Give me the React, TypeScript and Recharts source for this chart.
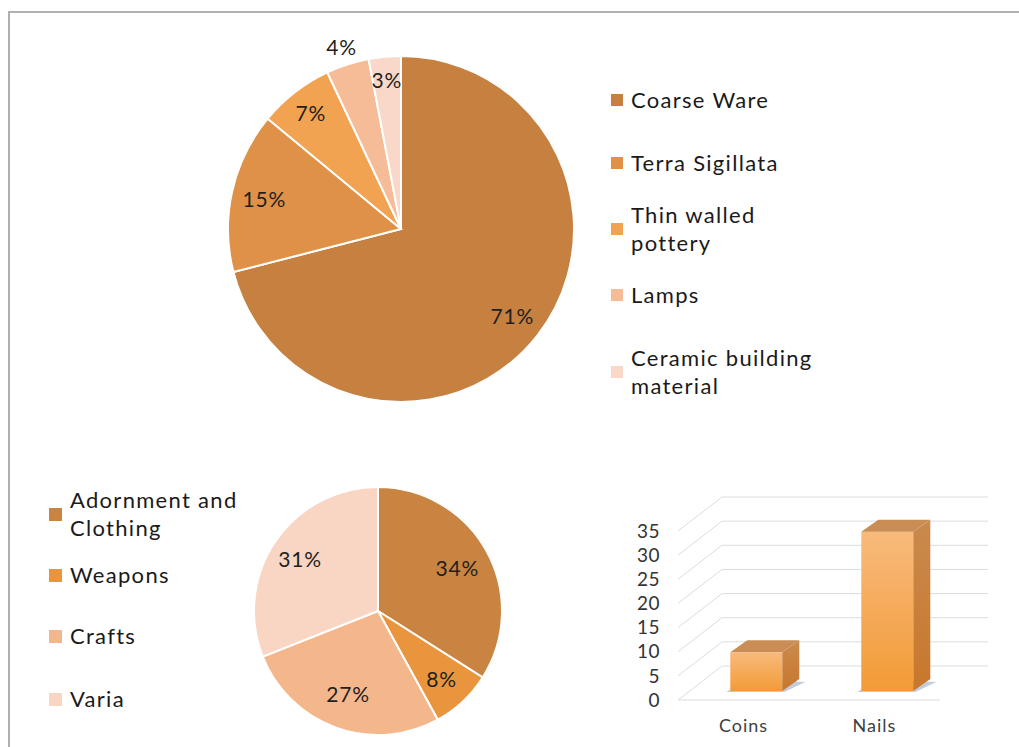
import {
  PieChart,
  Pie,
  Cell,
  BarChart,
  Bar,
  XAxis,
  YAxis,
  CartesianGrid,
  ReferenceLine,
} from "recharts";

const potteryNames = [
  "Coarse Ware",
  "Terra Sigillata",
  "Thin walled\npottery",
  "Lamps",
  "Ceramic building\nmaterial",
];
const potteryShares = [71, 15, 7, 4, 3];
const potteryColors = ["#C68040", "#DF9147", "#F2A352", "#F5BC97", "#F9D7C9"];

const findNames = ["Adornment and\nClothing", "Weapons", "Crafts", "Varia"];
const findShares = [34, 8, 27, 31];
const findColors = ["#C98441", "#E8953E", "#F4B68B", "#F9D5C4"];

const metalCategories = ["Coins", "Nails"];
const metalCounts = [8, 33];
const countTicks = [0, 5, 10, 15, 20, 25, 30, 35];

const potteryData = potteryNames.map((name, i) => ({ name, value: potteryShares[i] }));
const findData = findNames.map((name, i) => ({ name, value: findShares[i] }));
const metalData = metalCategories.map((name, i) => ({ name, count: metalCounts[i] }));

const FONT = "Lato, 'Noto Sans', sans-serif";
const RAD = Math.PI / 180;

// where the percent sits, as a share of the radius (small slice 4% sits outside)
const topLabelRadius = [0.815, 0.81, 0.85, 1.11, 0.87];
const bottomLabelRadius = [0.73, 0.75, 0.71, 0.76];

// legend row centres (page px)
const topLegendY = [100, 163, 229, 295, 372];
const bottomLegendY = [514, 575, 636, 699];

function makeLabel(radii: number[]) {
  return (p: any) => {
    const r = p.outerRadius * radii[p.index];
    const x = p.cx + r * Math.cos(-p.midAngle * RAD);
    const y = p.cy + r * Math.sin(-p.midAngle * RAD);
    return (
      <text
        x={x}
        y={y}
        textAnchor="middle"
        dominantBaseline="central"
        fill="#1f1f1f"
        fontSize={21}
        letterSpacing={0.8}
        fontFamily={FONT}
      >
        {p.value}%
      </text>
    );
  };
}

function LegendBlock({
  names,
  colors,
  ys,
  squareX,
  textX,
  square,
}: {
  names: string[];
  colors: string[];
  ys: number[];
  squareX: number;
  textX: number;
  square: number;
}) {
  return (
    <>
      {names.map((n, i) => (
        <div key={n}>
          <div
            style={{
              position: "absolute",
              left: squareX,
              top: ys[i] - square / 2,
              width: square,
              height: square,
              background: colors[i],
            }}
          />
          <div
            style={{
              position: "absolute",
              left: textX,
              top: ys[i],
              transform: "translateY(-50%)",
              whiteSpace: "pre",
              fontFamily: FONT,
              fontSize: 22,
              letterSpacing: 1.3,
              lineHeight: "28px",
              color: "#1a1a1a",
            }}
          >
            {n}
          </div>
        </div>
      ))}
    </>
  );
}

const GRID_DX = 44;
const GRID_DY = -34;

const gridLine = (p: any) => {
  const { x1, y1, x2, key } = p;
  return (
    <g key={key}>
      <line x1={x1} y1={y1} x2={x1 + GRID_DX} y2={y1 + GRID_DY} stroke="#DCDCDC" strokeWidth={1} />
      <line
        x1={x1 + GRID_DX}
        y1={y1 + GRID_DY}
        x2={x2 + 48}
        y2={y1 + GRID_DY}
        stroke="#DCDCDC"
        strokeWidth={1}
      />
    </g>
  );
};

const Box3D = (props: any) => {
  const { x, y, width, height } = props;
  const fx = x + 13;
  const fy = y - 9;
  const w = width;
  const h = height;
  const dx = 17;
  const dy = -12;
  const b = fy + h;
  return (
    <g>
      <polygon
        points={`${fx - 4},${b + 1} ${fx + w + 2},${b + 1} ${fx + w + dx + 6},${b + dy + 3} ${fx + dx},${b + dy}`}
        fill="#8FA3BF"
        opacity={0.55}
      />
      <rect x={fx} y={fy} width={w} height={h} fill="url(#boxFront)" />
      <polygon
        points={`${fx + w},${fy} ${fx + w + dx},${fy + dy} ${fx + w + dx},${b + dy} ${fx + w},${b}`}
        fill="url(#boxSide)"
      />
      <polygon
        points={`${fx},${fy} ${fx + w},${fy} ${fx + w + dx},${fy + dy} ${fx + dx},${fy + dy}`}
        fill="#C98D55"
      />
    </g>
  );
};

const noMargin = { top: 0, right: 0, bottom: 0, left: 0 };

export default function App() {
  return (
    <div
      style={{
        position: "fixed",
        left: 0,
        top: 0,
        width: 1019,
        height: 747,
        background: "#fff",
        overflow: "hidden",
      }}
    >
      <div
        style={{
          position: "absolute",
          left: 8,
          top: 11,
          right: -10,
          bottom: -10,
          borderTop: "2px solid #B0B0B0",
          borderLeft: "2px solid #B0B0B0",
        }}
      />

      <div style={{ position: "absolute", left: 191, top: 19 }}>
        <PieChart width={420} height={420} margin={noMargin}>
          <Pie
            data={potteryData}
            dataKey="value"
            nameKey="name"
            cx={210}
            cy={210}
            outerRadius={173}
            startAngle={90}
            endAngle={-270}
            stroke="#fff"
            strokeWidth={2}
            label={makeLabel(topLabelRadius)}
            labelLine={false}
            isAnimationActive={false}
          >
            {potteryData.map((d, i) => (
              <Cell key={d.name} fill={potteryColors[i]} />
            ))}
          </Pie>
        </PieChart>
      </div>
      <LegendBlock
        names={potteryNames}
        colors={potteryColors}
        ys={topLegendY}
        squareX={611}
        textX={631}
        square={12}
      />

      <div style={{ position: "absolute", left: 228, top: 461 }}>
        <PieChart width={300} height={300} margin={noMargin}>
          <Pie
            data={findData}
            dataKey="value"
            nameKey="name"
            cx={150}
            cy={150}
            outerRadius={124}
            startAngle={90}
            endAngle={-270}
            stroke="#fff"
            strokeWidth={2}
            label={makeLabel(bottomLabelRadius)}
            labelLine={false}
            isAnimationActive={false}
          >
            {findData.map((d, i) => (
              <Cell key={d.name} fill={findColors[i]} />
            ))}
          </Pie>
        </PieChart>
      </div>
      <LegendBlock
        names={findNames}
        colors={findColors}
        ys={bottomLegendY}
        squareX={49}
        textX={70}
        square={13}
      />

      <div style={{ position: "absolute", left: 600, top: 480 }}>
        <BarChart
          width={419}
          height={267}
          data={metalData}
          margin={{ top: 51, right: 79, left: 18, bottom: 17 }}
          barCategoryGap="30%"
        >
          <defs>
            <linearGradient id="boxFront" x1="0" y1="0" x2="0" y2="1">
              <stop offset="0%" stopColor="#F8BA7B" />
              <stop offset="100%" stopColor="#F29B37" />
            </linearGradient>
            <linearGradient id="boxSide" x1="0" y1="0" x2="0" y2="1">
              <stop offset="0%" stopColor="#C98A4E" />
              <stop offset="100%" stopColor="#C8772C" />
            </linearGradient>
          </defs>
          <CartesianGrid vertical={false} horizontal={gridLine} />
          <ReferenceLine y={0} stroke="#DCDCDC" ifOverflow="visible" />
          <XAxis
            dataKey="name"
            axisLine={false}
            tickLine={false}
            tickSize={8}
            tickMargin={11}
            height={30}
            tick={{ fill: "#404040", fontSize: 18, fontFamily: FONT, letterSpacing: 1 }}
          />
          <YAxis
            domain={[0, 35]}
            ticks={countTicks}
            interval={0}
            axisLine={false}
            tickLine={false}
            tickSize={8}
            tickMargin={10}
            width={60}
            tick={{ fill: "#333", fontSize: 19, fontFamily: FONT, letterSpacing: 0.5 }}
          />
          <Bar dataKey="count" shape={Box3D} isAnimationActive={false} />
        </BarChart>
      </div>
    </div>
  );
}
